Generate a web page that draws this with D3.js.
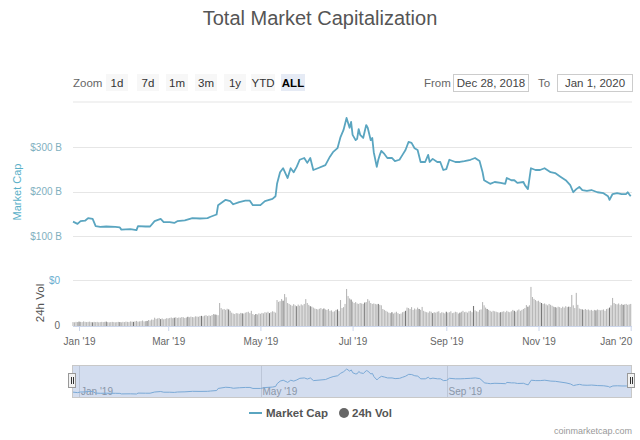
<!DOCTYPE html>
<html><head><meta charset="utf-8">
<script src="https://cdn.jsdelivr.net/npm/d3@7"></script>
<style>
html,body{margin:0;padding:0;background:#fff;}
svg{display:block;font-family:"Liberation Sans",Arial,sans-serif;}
</style></head>
<body>
<svg id="c" width="640" height="440"></svg>
<script>
// ---- data ----
const startDate = "2018-12-28";
const endDate = "2020-01-01";
// day offsets from startDate for market cap samples
const mcapDays = [0,3,5,8,10,13,15,18,22,28,31,32,38,42,43,48,51,54,58,60,64,67,69,74,79,84,89,91,95,96,101,104,106,110,114,117,119,124,127,132,134,135,137,139,142,144,146,148,150,153,155,157,159,162,167,170,172,175,177,179,181,183,184,185,187,188,189,190,192,194,195,197,198,199,201,202,203,204,206,208,211,213,216,218,220,222,224,226,228,230,233,235,236,238,241,243,245,247,249,253,256,259,263,266,269,271,272,274,276,279,283,286,287,290,292,294,298,299,301,303,306,309,312,316,319,322,326,329,331,333,335,337,340,343,347,351,354,355,357,360,363,366,367,369];
// total market cap, $ billions
const mcapValues = [133,128,134,135,141,139,123,121,122,121,120,115,116,114,123,122,122,134,139,132,132,130,134,136,141,140,141,144,149,170,182,179,172,177,180,180,170,170,179,184,190,218,244,253,231,253,244,256,272,276,265,276,249,253,260,279,289,298,323,339,366,344,357,328,316,319,341,328,321,350,344,316,321,289,256,272,283,292,285,276,276,269,272,283,294,312,310,298,294,267,267,283,267,274,267,267,249,251,272,267,267,269,272,276,269,244,226,222,218,222,220,218,231,226,226,220,222,215,206,253,249,249,253,244,242,235,226,215,199,206,211,204,202,204,199,197,190,182,195,197,195,195,199,190];
// 24h volume, $ billions, one per day from startDate
const volValues = [
17,16,18,17,19,18,17,20,18,17, 18,19,17,16,18,17,18,16,17,18,
17,18,19,17,16,17,18,17,16,17, 18,17,16,18,17,19,18,17,20,19,
18,20,22,19,20,21,24,20,21,22, 26,24,28,27,36,31,33,35,30,33,
29,31,34,33,35,37,34,36,38,35, 37,36,39,38,35,37,40,38,41,39,
38,42,41,40,43,44,42,45,47,43, 46,44,48,52,50,49,47,100,78,72,
74,70,75,72,66,58,54,52,56,55, 53,57,55,54,58,60,62,56,66,52,
48,52,50,55,53,57,55,60,58,62, 56,60,64,62,58,113,105,108,117,110,
139,125,100,96,92,88,95,90,86,93, 88,94,90,96,117,100,92,86,84,80,
76,74,72,75,78,73,76,72,70,74, 66,68,62,64,70,72,65,113,78,82,
96,161,130,120,115,106,100,104,98,96, 100,98,96,102,104,117,110,100,96,98,
96,94,96,92,90,74,70,66,62,58, 56,60,54,58,62,56,52,54,60,62,
66,80,78,74,82,70,76,72,80,74, 70,83,66,62,60,58,64,62,56,60,
58,62,64,56,60,58,55,62,58,60, 64,56,58,62,60,54,58,62,66,60,
62,58,64,66,60,87,68,64,62,70, 72,104,90,80,74,70,66,62,66,64,
62,60,58,60,62,64,60,66,62,60, 64,70,66,62,68,72,66,70,74,78,
91,84,90,170,126,118,113,108,110,104, 100,96,98,94,90,96,92,88,84,82,
80,84,82,78,84,80,86,82,84,83, 135,90,78,144,92,76,74,72,70,74,
70,72,68,70,66,70,68,72,70,68, 70,72,66,74,76,80,90,122,100,96,
94,98,92,96,92,94,96,92,94,96];
const mcapTicks = [100,200,300];
const zoomButtons = ["1d","7d","1m","3m","1y","YTD","ALL"];
const fromLabel = "Dec 28, 2018", toLabel = "Jan 1, 2020";

// ---- drawing ----
const svg = d3.select("#c");
const parse = d3.utcParse("%Y-%m-%d");
const t0 = parse(startDate), t1 = parse(endDate);
const dayDate = i => d3.utcDay.offset(t0, i);
const mcap = mcapDays.map((d,i)=>({date:dayDate(d), v:mcapValues[i]}));
const vol = volValues.map((v,i)=>({date:dayDate(i), v}));

const lineColor = "#5aa5c0";
const x = d3.scaleUtc().domain([t0,t1]).range([73,630.7]);
const y = d3.scaleLinear().domain([100,300]).range([236.3,147.3]);
const yv = d3.scaleLinear().domain([0,200]).range([326,280]);

// title
svg.append("text").attr("x",320).attr("y",25).attr("text-anchor","middle")
  .attr("font-size",20).attr("fill","#555").text("Total Market Capitalization");

// zoom buttons
svg.append("text").attr("x",73).attr("y",87).attr("font-size",11.5).attr("fill","#666").text("Zoom");
const btnX = [106,137,166,195,224,251,281];
const btnW = [22,22,22,22,22,24,24];
zoomButtons.forEach((b,i)=>{
  const g = svg.append("g");
  g.append("rect").attr("x",btnX[i]).attr("y",74).attr("width",btnW[i]).attr("height",17)
    .attr("fill", b==="ALL" ? "#e6ebf5" : "#f7f7f7");
  g.append("text").attr("x",btnX[i]+btnW[i]/2).attr("y",86.5).attr("text-anchor","middle")
    .attr("font-size",11.5).attr("font-weight", b==="ALL"?"bold":"normal")
    .attr("fill", b==="ALL"?"#000":"#333").text(b);
});
svg.append("text").attr("x",424).attr("y",87).attr("font-size",11.5).attr("fill","#666").text("From");
svg.append("rect").attr("x",453.5).attr("y",74.5).attr("width",75).attr("height",17).attr("fill","#fff").attr("stroke","#ccc");
svg.append("text").attr("x",491).attr("y",87).attr("text-anchor","middle").attr("font-size",11.5).attr("fill","#444").text(fromLabel);
svg.append("text").attr("x",538).attr("y",87).attr("font-size",11.5).attr("fill","#666").text("To");
svg.append("rect").attr("x",557.5).attr("y",74.5).attr("width",75).attr("height",17).attr("fill","#fff").attr("stroke","#ccc");
svg.append("text").attr("x",595).attr("y",87).attr("text-anchor","middle").attr("font-size",11.5).attr("fill","#444").text(toLabel);
svg.append("line").attr("x1",73).attr("x2",632).attr("y1",102).attr("y2",102).attr("stroke","#eee").attr("stroke-width",1.5);

// main grid + labels
mcapTicks.forEach(t=>{
  svg.append("line").attr("x1",73).attr("x2",632).attr("y1",Math.round(y(t))+0.5).attr("y2",Math.round(y(t))+0.5)
    .attr("stroke","#e6e6e6");
  svg.append("text").attr("x",62).attr("y",y(t)+3.5).attr("text-anchor","end")
    .attr("font-size",10).attr("fill","#7fb0c0").text("$"+t+" B");
});
svg.append("text").attr("transform","translate(21,192) rotate(-90)").attr("text-anchor","middle")
  .attr("font-size",11).attr("fill","#5ab0c8").text("Market Cap");

// market cap line
svg.append("path").datum(mcap).attr("fill","none").attr("stroke",lineColor).attr("stroke-width",1.8)
  .attr("stroke-linejoin","round")
  .attr("d", d3.line().x(d=>x(d.date)).y(d=>y(d.v)));

// volume panel
svg.append("line").attr("x1",73).attr("x2",632).attr("y1",280.5).attr("y2",280.5).attr("stroke","#e6e6e6");
svg.append("text").attr("x",60).attr("y",284).attr("text-anchor","end").attr("font-size",10).attr("fill","#6aaed0").text("$0");
svg.append("text").attr("x",60).attr("y",329).attr("text-anchor","end").attr("font-size",10).attr("fill","#666").text("0");
svg.append("text").attr("transform","translate(44,303) rotate(-90)").attr("text-anchor","middle")
  .attr("font-size",11.5).attr("fill","#555").text("24h Vol");
svg.append("g").selectAll("rect").data(vol).join("rect")
  .attr("x",d=>x(d.date)-0.55).attr("width",1.1)
  .attr("y",d=>yv(d.v)).attr("height",d=>yv(0)-yv(d.v))
  .attr("fill",(d,i)=> i%9===4 ? "#777" : "#b8b8b8");

const monthTicks = d3.utcMonth.every(2).range(parse("2019-01-01"), d3.utcDay.offset(t1,1));
const xAxis = d3.axisBottom(x).tickValues(monthTicks).tickFormat(d3.utcFormat("%b '%y")).tickSize(5).tickSizeOuter(0);
const gx = svg.append("g").attr("transform","translate(0,326)").call(xAxis);
gx.select(".domain").attr("stroke","#ccd6eb").attr("d","M73,0.5H632");
gx.selectAll(".tick line").attr("stroke","#ccd6eb");
gx.selectAll("text").attr("font-size",10).attr("fill","#666").attr("dy","1.1em").attr("font-family","Liberation Sans, Arial, sans-serif");
// keep last label inside the plot (as Highcharts does)
gx.selectAll(".tick").filter(d=>+d===+t1).select("text").attr("text-anchor","end").attr("x",1);

// navigator
const nx = d3.scaleUtc().domain([t0,t1]).range([73,631]);
const ny = d3.scaleLinear().domain(d3.extent(mcapValues)).range([394,369]);
svg.append("rect").attr("x",72.5).attr("y",365.5).attr("width",559).attr("height",32)
  .attr("fill","#d3ddef").attr("stroke","#c8c8c8");
const navTicks = d3.utcMonth.every(4).range(parse("2019-01-01"), t1);
navTicks.forEach(t=>{
  svg.append("line").attr("x1",Math.round(nx(t))+0.5).attr("x2",Math.round(nx(t))+0.5).attr("y1",366).attr("y2",397)
    .attr("stroke","#bcc6d8");
  svg.append("text").attr("x",nx(t)+2).attr("y",395).attr("font-size",10).attr("fill","#8a96a8")
    .text(d3.utcFormat("%b '%y")(t));
});
svg.append("path").datum(mcap).attr("fill","none").attr("stroke","#7aa9d6").attr("stroke-width",1)
  .attr("d", d3.line().x(d=>nx(d.date)).y(d=>ny(d.v)));
[72,631].forEach(hx=>{
  svg.append("rect").attr("x",hx-3.5).attr("y",373.5).attr("width",7).attr("height",14)
    .attr("fill","#f2f2f2").attr("stroke","#999");
  svg.append("line").attr("x1",hx-0.5).attr("x2",hx-0.5).attr("y1",377).attr("y2",384).attr("stroke","#333");
  svg.append("line").attr("x1",hx+1.5).attr("x2",hx+1.5).attr("y1",377).attr("y2",384).attr("stroke","#333");
});

// legend
svg.append("line").attr("x1",249).attr("x2",262).attr("y1",413).attr("y2",413).attr("stroke",lineColor).attr("stroke-width",2);
svg.append("text").attr("x",266).attr("y",417).attr("font-size",11.5).attr("font-weight","bold").attr("fill","#555").text("Market Cap");
svg.append("circle").attr("cx",344).attr("cy",413).attr("r",5).attr("fill","#666");
svg.append("text").attr("x",352).attr("y",417).attr("font-size",11.5).attr("font-weight","bold").attr("fill","#555").text("24h Vol");

svg.append("text").attr("x",632).attr("y",434).attr("text-anchor","end").attr("font-size",9).attr("fill","#999").text("coinmarketcap.com");
</script>
</body></html>
